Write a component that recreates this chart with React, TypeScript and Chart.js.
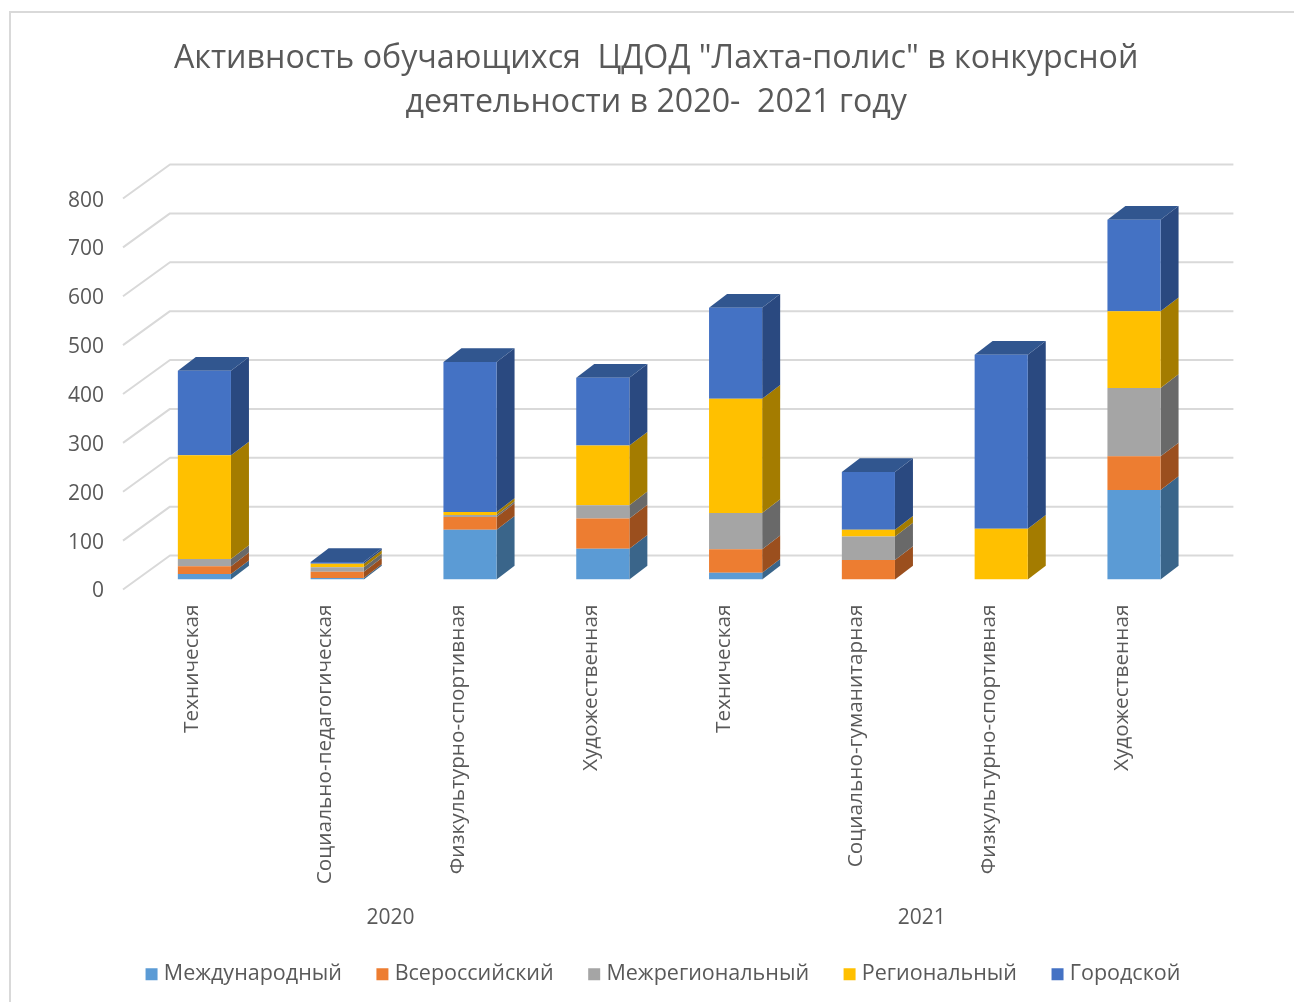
import React, { useEffect, useRef } from "react";
import { Chart, registerables } from "chart.js";

Chart.register(...registerables);

const categories = [
  "Техническая",
  "Социально-педагогическая",
  "Физкультурно-спортивная",
  "Художественная",
  "Техническая",
  "Социально-гуманитарная",
  "Физкультурно-спортивная",
  "Художественная",
];
const years = ["2020", "2021"];
const titleLines = [
  'Активность обучающихся  ЦДОД "Лахта-полис" в конкурсной',
  "деятельности в 2020-  2021 году",
];

const international = [11, 3, 102, 63, 14, 0, 0, 183];
const national = [16, 13, 26, 62, 48, 40, 0, 69];
const interregional = [15, 9, 4, 27, 74, 48, 0, 140];
const regional = [212, 7, 6, 122, 234, 14, 104, 157];
const city = [173, 4, 307, 139, 186, 118, 356, 187];

const FONT = "'Open Sans', 'Noto Sans', sans-serif";
const TEXT = "#595959";
const GRID = "#D9D9D9";
const DX = 18;
const DY = 13.7;

const sideColors = ["#3A658A", "#9B4F1E", "#696969", "#A47C00", "#2A4980"];
const TOP_COLOR = "#31568F";

const threeD = {
  id: "threeD",
  afterLayout(chart: any) {
    chart.titleBlock.left += 56;
    chart.titleBlock.right += 56;
    chart.legend.left += 65;
    chart.legend.right += 65;
  },
  beforeDatasetsDraw(chart: any) {
    const ctx = chart.ctx;
    const y = chart.scales.y;
    const { left, right } = chart.chartArea;
    ctx.save();
    // walls: grid lines running back from the floor front and along the back wall
    ctx.strokeStyle = GRID;
    ctx.lineWidth = 2;
    ctx.lineJoin = "round";
    y.ticks.forEach((t: any) => {
      const p = y.getPixelForValue(t.value);
      ctx.beginPath();
      ctx.moveTo(left - 15, p + 10);
      ctx.lineTo(left + 32, p - 24);
      ctx.lineTo(right + 33, p - 24);
      ctx.stroke();
    });
    // side and top faces of every bar
    const n = chart.data.labels.length;
    for (let i = 0; i < n; i++) {
      let top: any = null;
      chart.data.datasets.forEach((_: any, d: number) => {
        const bar = chart.getDatasetMeta(d).data[i];
        if (!chart.data.datasets[d].data[i]) return;
        const x1 = bar.x + bar.width / 2;
        ctx.fillStyle = sideColors[d];
        ctx.beginPath();
        ctx.moveTo(x1, bar.y);
        ctx.lineTo(x1 + DX, bar.y - DY);
        ctx.lineTo(x1 + DX, bar.base - DY);
        ctx.lineTo(x1, bar.base);
        ctx.closePath();
        ctx.fill();
        top = bar;
      });
      if (top) {
        const x0 = top.x - top.width / 2;
        const x1 = top.x + top.width / 2;
        ctx.fillStyle = TOP_COLOR;
        ctx.beginPath();
        ctx.moveTo(x0, top.y);
        ctx.lineTo(x0 + DX, top.y - DY);
        ctx.lineTo(x1 + DX, top.y - DY);
        ctx.lineTo(x1, top.y);
        ctx.closePath();
        ctx.fill();
      }
    }
    ctx.restore();
  },
};

export default function App() {
  const ref = useRef<HTMLCanvasElement>(null);
  useEffect(() => {
    const chart = new Chart(ref.current as any, {
      type: "bar",
      plugins: [threeD],
      data: {
        labels: categories,
        datasets: [
          { label: "Международный", data: international, backgroundColor: "#5B9BD5" },
          { label: "Всероссийский", data: national, backgroundColor: "#ED7D31" },
          { label: "Межрегиональный", data: interregional, backgroundColor: "#A5A5A5" },
          { label: "Региональный", data: regional, backgroundColor: "#FFC000" },
          { label: "Городской", data: city, backgroundColor: "#4472C4" },
        ],
      },
      options: {
        animation: false,
        responsive: false,
        layout: { padding: { left: 0, right: 93.6, top: 0, bottom: 7 } },
        datasets: { bar: { barPercentage: 0.4, categoryPercentage: 1, borderWidth: 0 } },
        scales: {
          x: {
            stacked: true,
            weight: 0,
            grid: { display: false, drawTicks: false },
            border: { display: false },
            ticks: {
              autoSkip: false,
              minRotation: 90,
              maxRotation: 90,
              padding: 25,
              labelOffset: -12,
              color: TEXT,
              font: { family: FONT, size: 20.8 },
            },
            afterFit(s: any) {
              s.height = 323;
            },
          },
          x2: {
            type: "category",
            axis: "x",
            position: "bottom",
            weight: 1,
            labels: years,
            offset: true,
            grid: { display: false, drawTicks: false },
            border: { display: false },
            ticks: {
              padding: 3,
              labelOffset: -13,
              color: TEXT,
              font: { family: FONT, size: 21 },
            },
            afterFit(s: any) {
              s.height = 22;
            },
          },
          y: {
            stacked: true,
            min: 0,
            max: 800,
            grid: { display: false, drawTicks: false },
            border: { display: false },
            ticks: {
              stepSize: 100,
              padding: 34,
              labelOffset: 12,
              color: TEXT,
              font: { family: FONT, size: 21 },
            },
            afterFit(s: any) {
              s.width = 138;
            },
          },
        } as any,
        plugins: {
          title: {
            display: true,
            text: titleLines,
            color: TEXT,
            padding: { top: 36, bottom: 63 },
            font: { family: FONT, size: 32.2, weight: "normal", lineHeight: 1.39 },
          },
          legend: {
            position: "bottom",
            labels: {
              usePointStyle: true,
              pointStyle: "rect",
              boxWidth: 3,
              boxHeight: 12,
              padding: 39,
              color: TEXT,
              font: { family: FONT, size: 21.5 },
            },
          },
          tooltip: { enabled: false },
        },
      } as any,
    });
    return () => chart.destroy();
  }, []);
  return (
    <div style={{ position: "absolute", left: 0, top: 0, width: 1294, height: 1002, overflow: "hidden", background: "#fff" }}>
      <div style={{ position: "absolute", left: 9, top: 11, width: 1400, height: 1100, border: "2px solid #D9D9D9" }} />
      <canvas ref={ref} width={1294} height={1002} style={{ position: "absolute", left: 0, top: 0 }} />
    </div>
  );
}
